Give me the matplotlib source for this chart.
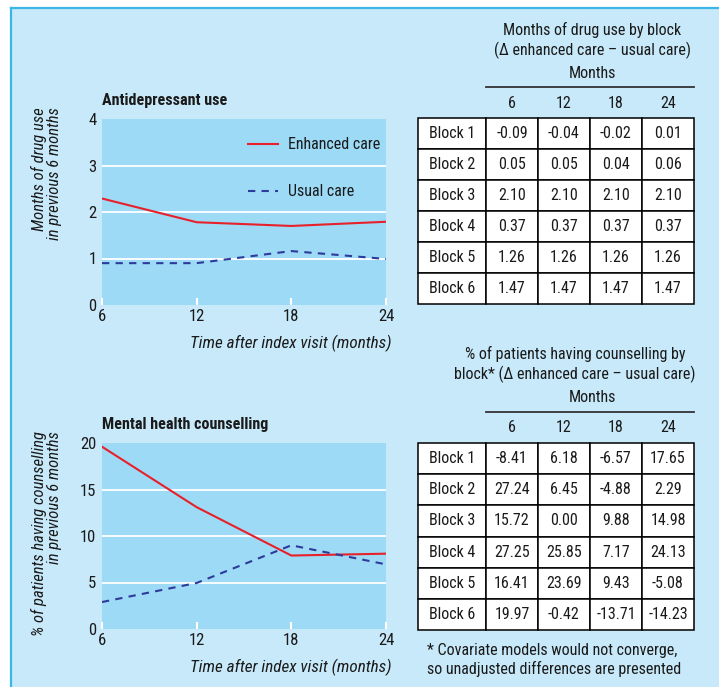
import matplotlib
matplotlib.use("Agg")
import matplotlib.pyplot as plt
from matplotlib import font_manager
from matplotlib.lines import Line2D
from matplotlib.patches import Rectangle

# pick a condensed sans font if one is installed
_names = {(f.name, str(f.stretch)) for f in font_manager.fontManager.ttflist}
_fam = None
_stretch = "normal"
for cand in ["Liberation Sans Narrow", "Roboto Condensed", "Open Sans Condensed",
             "DejaVu Sans Condensed", "Noto Sans Condensed"]:
    if any(n == cand for n, s in _names):
        _fam = cand
        break
if _fam is None:
    for n, s in _names:
        if s in ("condensed", "semi-condensed", "extra-condensed", "75", "87.5") and "Mono" not in n and "Serif" not in n:
            _fam = n
            _stretch = "condensed"
            break
if _fam is None:
    _fam = "Liberation Sans"
plt.rcParams['font.family'] = [_fam, 'Liberation Sans', 'DejaVu Sans']
plt.rcParams['font.stretch'] = _stretch

# ---------------- data ----------------
months = [6, 12, 18, 24]
drug_enhanced = [2.29, 1.78, 1.70, 1.79]
drug_usual = [0.90, 0.90, 1.16, 0.99]
couns_enhanced = [19.6, 13.1, 7.9, 8.1]
couns_usual = [2.9, 4.95, 9.0, 6.95]

block_labels = ["Block 1", "Block 2", "Block 3", "Block 4", "Block 5", "Block 6"]
col_labels = ["6", "12", "18", "24"]
drug_table = [
    ["-0.09", "-0.04", "-0.02", "0.01"],
    ["0.05", "0.05", "0.04", "0.06"],
    ["2.10", "2.10", "2.10", "2.10"],
    ["0.37", "0.37", "0.37", "0.37"],
    ["1.26", "1.26", "1.26", "1.26"],
    ["1.47", "1.47", "1.47", "1.47"],
]
couns_table = [
    ["-8.41", "6.18", "-6.57", "17.65"],
    ["27.24", "6.45", "-4.88", "2.29"],
    ["15.72", "0.00", "9.88", "14.98"],
    ["27.25", "25.85", "7.17", "24.13"],
    ["16.41", "23.69", "9.43", "-5.08"],
    ["19.97", "-0.42", "-13.71", "-14.23"],
]

W, H = 719, 687
BG = "#c7e9f9"
AXBG = "#9ddaf6"
RED = "#e8202a"
NAVY = "#2e3a9c"
TXT = "#1a1a1a"
FS = 11.5

fig = plt.figure(figsize=(W / 100, H / 100), dpi=100)
fig.patch.set_facecolor("white")


def fx(x):
    return x / W


def fy(y):
    return 1 - y / H


def rect(x0, y0, x1, y1):
    return [fx(x0), fy(y1), (x1 - x0) / W, (y1 - y0) / H]


# panel background with border on left and top
fig.patches.append(Rectangle((fx(11), 0), 1 - fx(11), fy(7.5), transform=fig.transFigure,
                             facecolor=BG, edgecolor="none", zorder=-10))
fig.lines.append(Line2D([fx(11), fx(11)], [0, fy(7.5)], transform=fig.transFigure,
                        color="#3bb6e6", lw=1.6))
fig.lines.append(Line2D([fx(11), 1], [fy(7.5), fy(7.5)], transform=fig.transFigure,
                        color="#3bb6e6", lw=1.6))


def line_panel(box, enh, usu, ymax, yticks, title, ylabel, title_y, ylabel_top, xlabel_y, legend):
    ax = fig.add_axes(rect(*box))
    ax.set_facecolor(AXBG)
    ax.plot(months, enh, color=RED, lw=1.5, label="Enhanced care")
    ax.plot(months, usu, color=NAVY, lw=1.5, ls=(0, (3.5, 3)), label="Usual care")
    ax.set_xlim(6, 24)
    ax.set_ylim(0, ymax)
    ax.set_xticks(months)
    ax.set_yticks(yticks)
    for yv in yticks[1:-1]:
        ax.axhline(yv, color="white", lw=1.3, zorder=0.5)
    for s in ax.spines.values():
        s.set_visible(False)
    ax.tick_params(axis="x", direction="in", length=5, width=1.5, color="white",
                   pad=3, labelsize=12, labelcolor=TXT)
    ax.tick_params(axis="y", length=0, pad=4, labelsize=12, labelcolor=TXT)
    fig.text(fx(box[0]), fy(title_y), title, fontsize=11.6, fontweight="bold",
             color=TXT, va="center", ha="left")
    fig.text(fx(46), fy(ylabel_top), ylabel, rotation=90, fontsize=12, style="italic",
             color=TXT, ha="center", va="top", multialignment="right", linespacing=1.0)
    fig.text(fx(391), fy(xlabel_y), "Time after index visit (months)", fontsize=12.3,
             style="italic", color=TXT, ha="right", va="center")
    if legend:
        axw = (box[2] - box[0])
        axh = (box[3] - box[1])
        ax.legend(loc="upper left",
                  bbox_to_anchor=((242 - box[0]) / axw, 1 - (131 - box[1]) / axh),
                  frameon=False, fontsize=FS, handlelength=1.85, handletextpad=0.6,
                  labelspacing=2.0, borderaxespad=0, labelcolor=TXT)
    return ax


line_panel((102, 119, 386, 305), drug_enhanced, drug_usual, 4, [0, 1, 2, 3, 4],
           "Antidepressant use", "Months of drug use\nin previous 6 months",
           101, 107, 343, True)
line_panel((102, 443, 386, 629), couns_enhanced, couns_usual, 20, [0, 5, 10, 15, 20],
           "Mental health counselling",
           "% of patients having counselling\nin previous 6 months",
           425, 431, 667, False)


def data_table(top, bottom, data, title, title_x, title_y1, months_y, rule_y, head_y):
    x0, x1 = 418, 694
    ax = fig.add_axes(rect(x0, top, x1, bottom))
    ax.set_axis_off()
    cells = [[b] + row for b, row in zip(block_labels, data)]
    widths = [68 / 276] + [52 / 276] * 4
    tb = ax.table(cellText=cells, colWidths=widths, bbox=[0, 0, 1, 1], cellLoc="center")
    tb.auto_set_font_size(False)
    for (r, c), cell in tb.get_celld().items():
        cell.set_facecolor("white")
        cell.set_edgecolor("black")
        cell.set_linewidth(1.1)
        cell.get_text().set_fontsize(FS)
        cell.get_text().set_color(TXT)
    # header
    xpos = 486
    for lab in col_labels:
        fig.text(fx(xpos + 26), fy(head_y), lab, fontsize=FS, color=TXT,
                 ha="center", va="center")
        xpos += 52
    fig.text(fx(title_x), fy(title_y1), title, fontsize=FS, color=TXT, ha="center",
             va="top", multialignment="center", linespacing=1.3)
    fig.text(fx(592), fy(months_y), "Months", fontsize=FS, color=TXT,
             ha="center", va="center")
    fig.lines.append(Line2D([fx(486), fx(694)], [fy(rule_y), fy(rule_y)],
                            transform=fig.transFigure, color="#333333", lw=1.3))


data_table(118, 304, drug_table,
           "Months of drug use by block\n(\u0394 enhanced care \u2013 usual care)",
           592, 22, 73, 87, 103)
data_table(443, 630, couns_table,
           "% of patients having counselling by\nblock* (\u0394 enhanced care \u2013 usual care)",
           575, 346, 398, 412, 428)

fig.text(fx(427), fy(643), "* Covariate models would not converge,\nso unadjusted differences are presented",
         fontsize=FS, color=TXT, ha="left", va="top", linespacing=1.2)

fig.savefig("out.png", dpi=100, facecolor=fig.get_facecolor())
